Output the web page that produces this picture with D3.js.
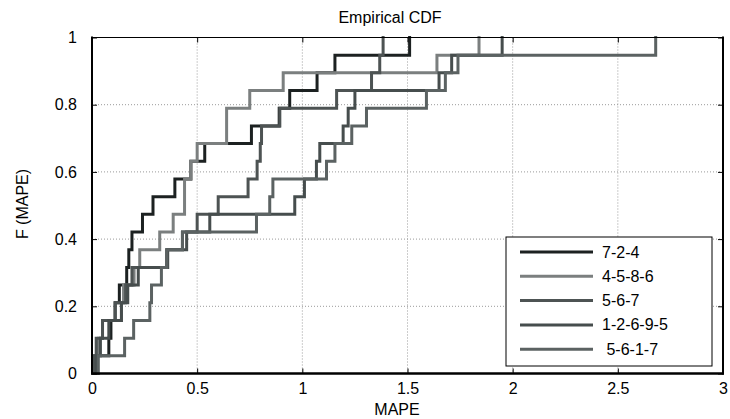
<!DOCTYPE html>
<html>
<head>
<meta charset="utf-8">
<script src="https://cdn.jsdelivr.net/npm/d3@7"></script>
<style>
  body { margin: 0; background: #fff; }
  text { font-family: "Liberation Sans", Arial, sans-serif; fill: #000; }
</style>
</head>
<body>
<div id="chart"></div>
<script>
// legend names, in drawing order
var seriesNames = ['7-2-4', '4-5-8-6', '5-6-7', '1-2-6-9-5', ' 5-6-1-7'];
var seriesColors = ['#1c2121', '#7b7f7f', '#4d5353', '#464d4d', '#5b6262'];

// MAPE samples per series (19 each)
var mape724 = [0.02, 0.08, 0.09, 0.11, 0.13, 0.165, 0.175, 0.19, 0.24, 0.29, 0.394, 0.47, 0.536, 0.758, 0.89, 0.94, 1.07, 1.155, 1.51];
var mape4586 = [0.01, 0.03, 0.05, 0.14, 0.15, 0.20, 0.227, 0.322, 0.386, 0.44, 0.44, 0.47, 0.50, 0.64, 0.64, 0.75, 0.909, 1.64, 1.84];
var mape567 = [0.01, 0.02, 0.05, 0.11, 0.16, 0.19, 0.355, 0.43, 0.50, 0.60, 0.742, 0.785, 0.80, 0.806, 0.893, 1.163, 1.329, 1.368, 1.384];
var mape12695 = [0.02, 0.04, 0.08, 0.14, 0.17, 0.22, 0.36, 0.45, 0.56, 0.964, 1.01, 1.067, 1.083, 1.194, 1.218, 1.25, 1.65, 1.71, 1.95];
var mape5617 = [0.03, 0.155, 0.198, 0.275, 0.283, 0.33, 0.355, 0.43, 0.782, 0.845, 0.86, 1.115, 1.155, 1.235, 1.305, 1.59, 1.68, 1.74, 2.68];

var xTicks = [0, 0.5, 1, 1.5, 2, 2.5, 3];
var yTicks = [0, 0.2, 0.4, 0.6, 0.8, 1];

var allSeries = [mape724, mape4586, mape567, mape12695, mape5617];

var W = 730, H = 419;
var pLeft = 92, pRight = 723, pTop = 37.5, pBottom = 373.5;
var fontSize = '16px';

var svg = d3.select('#chart')
    .append('svg')
    .attr('width', W)
    .attr('height', H);

var x = d3.scaleLinear().domain([0, 3]).range([pLeft, pRight]);
var y = d3.scaleLinear().domain([0, 1]).range([pBottom, pTop]);

// grid
var grid = svg.append('g');
grid.selectAll('line.gx')
    .data(xTicks.slice(1, -1))
    .enter()
    .append('line')
    .attr('x1', d => x(d)).attr('x2', d => x(d))
    .attr('y1', pTop).attr('y2', pBottom)
    .style('stroke', '#9a9a9a')
    .style('stroke-width', 1)
    .style('stroke-dasharray', '1,2');
grid.selectAll('line.gy')
    .data(yTicks.slice(1, -1))
    .enter()
    .append('line')
    .attr('y1', d => y(d)).attr('y2', d => y(d))
    .attr('x1', pLeft).attr('x2', pRight)
    .style('stroke', '#9a9a9a')
    .style('stroke-width', 1)
    .style('stroke-dasharray', '1,2');

// ecdf step lines
var line = d3.line()
    .x(d => x(d[0]))
    .y(d => y(d[1]))
    .curve(d3.curveStepAfter);

function ecdfPoints(vals) {
    var s = vals.slice().sort(d3.ascending);
    var n = s.length;
    var pts = [[s[0], 0]];
    s.forEach(function(v, i) { pts.push([v, (i + 1) / n]); });
    return pts;
}

svg.append('g')
    .selectAll('path')
    .data(allSeries)
    .enter()
    .append('path')
    .attr('d', d => line(ecdfPoints(d)))
    .style('fill', 'none')
    .style('stroke', (d, i) => seriesColors[i])
    .style('stroke-width', 3)
    .style('stroke-linejoin', 'miter')
    .style('stroke-linecap', 'square');

// axes with inward ticks
var xAxis = svg.append('g')
    .attr('transform', 'translate(0,' + pBottom + ')')
    .call(d3.axisBottom(x).tickValues(xTicks).tickSize(-5).tickPadding(9).tickFormat(d3.format('')));
var yAxis = svg.append('g')
    .attr('transform', 'translate(' + pLeft + ',0)')
    .call(d3.axisLeft(y).tickValues(yTicks).tickSize(-5).tickPadding(15).tickFormat(d3.format('')));
var xTop = svg.append('g')
    .attr('transform', 'translate(0,' + pTop + ')')
    .call(d3.axisTop(x).tickValues(xTicks).tickSize(-5).tickFormat(''));
var yRight = svg.append('g')
    .attr('transform', 'translate(' + pRight + ',0)')
    .call(d3.axisRight(y).tickValues(yTicks).tickSize(-5).tickFormat(''));

[xAxis, yAxis, xTop, yRight].forEach(function(g) {
    g.select('.domain').remove();
    g.selectAll('.tick line').style('stroke', '#000').style('stroke-width', 1);
    g.selectAll('.tick text').style('font-size', fontSize).style('fill', '#000')
        .style('font-family', '"Liberation Sans", Arial, sans-serif');
});

// box
svg.append('line').attr('x1', pLeft).attr('x2', pLeft).attr('y1', pTop - 1).attr('y2', pBottom + 1)
    .style('stroke', '#000').style('stroke-width', 2);
svg.append('line').attr('x1', pLeft - 1).attr('x2', pRight + 1).attr('y1', pBottom).attr('y2', pBottom)
    .style('stroke', '#000').style('stroke-width', 2.5);
svg.append('line').attr('x1', pRight).attr('x2', pRight).attr('y1', pTop - 1).attr('y2', pBottom + 1)
    .style('stroke', '#000').style('stroke-width', 2);
svg.append('line').attr('x1', pLeft).attr('x2', pRight).attr('y1', pTop).attr('y2', pTop)
    .style('stroke', '#000').style('stroke-width', 1.2);

// titles
svg.append('text')
    .attr('x', 390).attr('y', 23)
    .style('text-anchor', 'middle')
    .style('font-size', fontSize)
    .text('Empirical CDF');
svg.append('text')
    .attr('x', 397).attr('y', 415)
    .style('text-anchor', 'middle')
    .style('font-size', fontSize)
    .text('MAPE');
svg.append('text')
    .attr('transform', 'translate(28,204) rotate(-90)')
    .style('text-anchor', 'middle')
    .style('font-size', fontSize)
    .text('F (MAPE)');

// legend
var lg = svg.append('g');
lg.append('rect')
    .attr('x', 506).attr('y', 237)
    .attr('width', 206).attr('height', 129)
    .style('fill', '#fff')
    .style('stroke', '#000')
    .style('stroke-width', 1);
var items = lg.selectAll('g.item')
    .data(seriesNames)
    .enter()
    .append('g')
    .attr('transform', (d, i) => 'translate(0,' + (252 + i * 24.3) + ')');
items.append('line')
    .attr('x1', 520).attr('x2', 593)
    .style('stroke', (d, i) => seriesColors[i])
    .style('stroke-width', 3);
items.append('text')
    .attr('x', 602).attr('y', 5.5)
    .style('font-size', fontSize)
    .style('white-space', 'pre')
    .text(d => d);
</script>
</body>
</html>
